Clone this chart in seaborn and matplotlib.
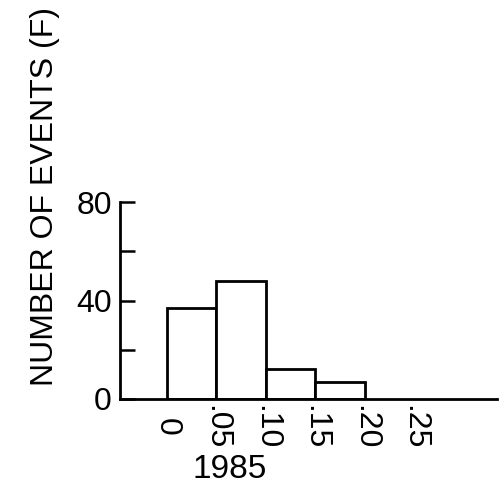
import matplotlib
matplotlib.use("Agg")
import matplotlib.pyplot as plt
import seaborn as sns
import numpy as np
import pandas as pd

# Data
bin_edges = [0.0, 0.05, 0.10, 0.15, 0.20]
counts = [37, 48, 12, 7]
x_ticks = [0, 0.05, 0.10, 0.15, 0.20, 0.25]
x_tick_labels = ["0", ".05", ".10", ".15", ".20", ".25"]
y_ticks = [0, 20, 40, 60, 80]
y_tick_labels = ["0", "", "40", "", "80"]
y_label = "NUMBER OF EVENTS (F)"
panel_label = "1985"

sns.set_theme(style="ticks")
plt.rcParams['font.family'] = ['Liberation Sans', 'DejaVu Sans']
plt.rcParams['text.color'] = 'black'
plt.rcParams['axes.labelcolor'] = 'black'

fig = plt.figure(figsize=(5.04, 4.93), dpi=100)
ax = fig.add_axes([120/504, 1-399/493, (497-120)/504, (399-202)/493])

centers = [(bin_edges[i] + bin_edges[i+1]) / 2 for i in range(len(counts))]
df = pd.DataFrame({"x": centers, "w": counts})
sns.histplot(data=df, x="x", weights="w", bins=bin_edges, ax=ax,
             color="white", edgecolor="black", linewidth=2.0, alpha=1)

ax.set_xlim(-0.0477, 0.334)
ax.set_ylim(0, 80)
for s in ["top", "right"]:
    ax.spines[s].set_visible(False)
for s in ["left", "bottom"]:
    ax.spines[s].set_linewidth(2.0)
    ax.spines[s].set_color("black")

ax.set_yticks(y_ticks)
ax.set_yticklabels(y_tick_labels, fontsize=23)
ax.tick_params(axis="y", direction="in", length=10.5, width=1.8, pad=6,
               colors="black", labelcolor="black")

ax.set_xticks(x_ticks)
ax.set_xticklabels(x_tick_labels, fontsize=23, rotation=-90, va="center", ha="center")
ax.tick_params(axis="x", length=0, pad=20, colors="black", labelcolor="black")

ax.set_xlabel("")
ax.set_ylabel("")
fig.text(45/504, 1-197/493, y_label, rotation=90, fontsize=23,
         ha="center", va="center", color="black")
fig.text(230/504, 1-470/493, panel_label, fontsize=24,
         ha="center", va="center", color="black")

fig.savefig("out.png", dpi=100, facecolor="white")
